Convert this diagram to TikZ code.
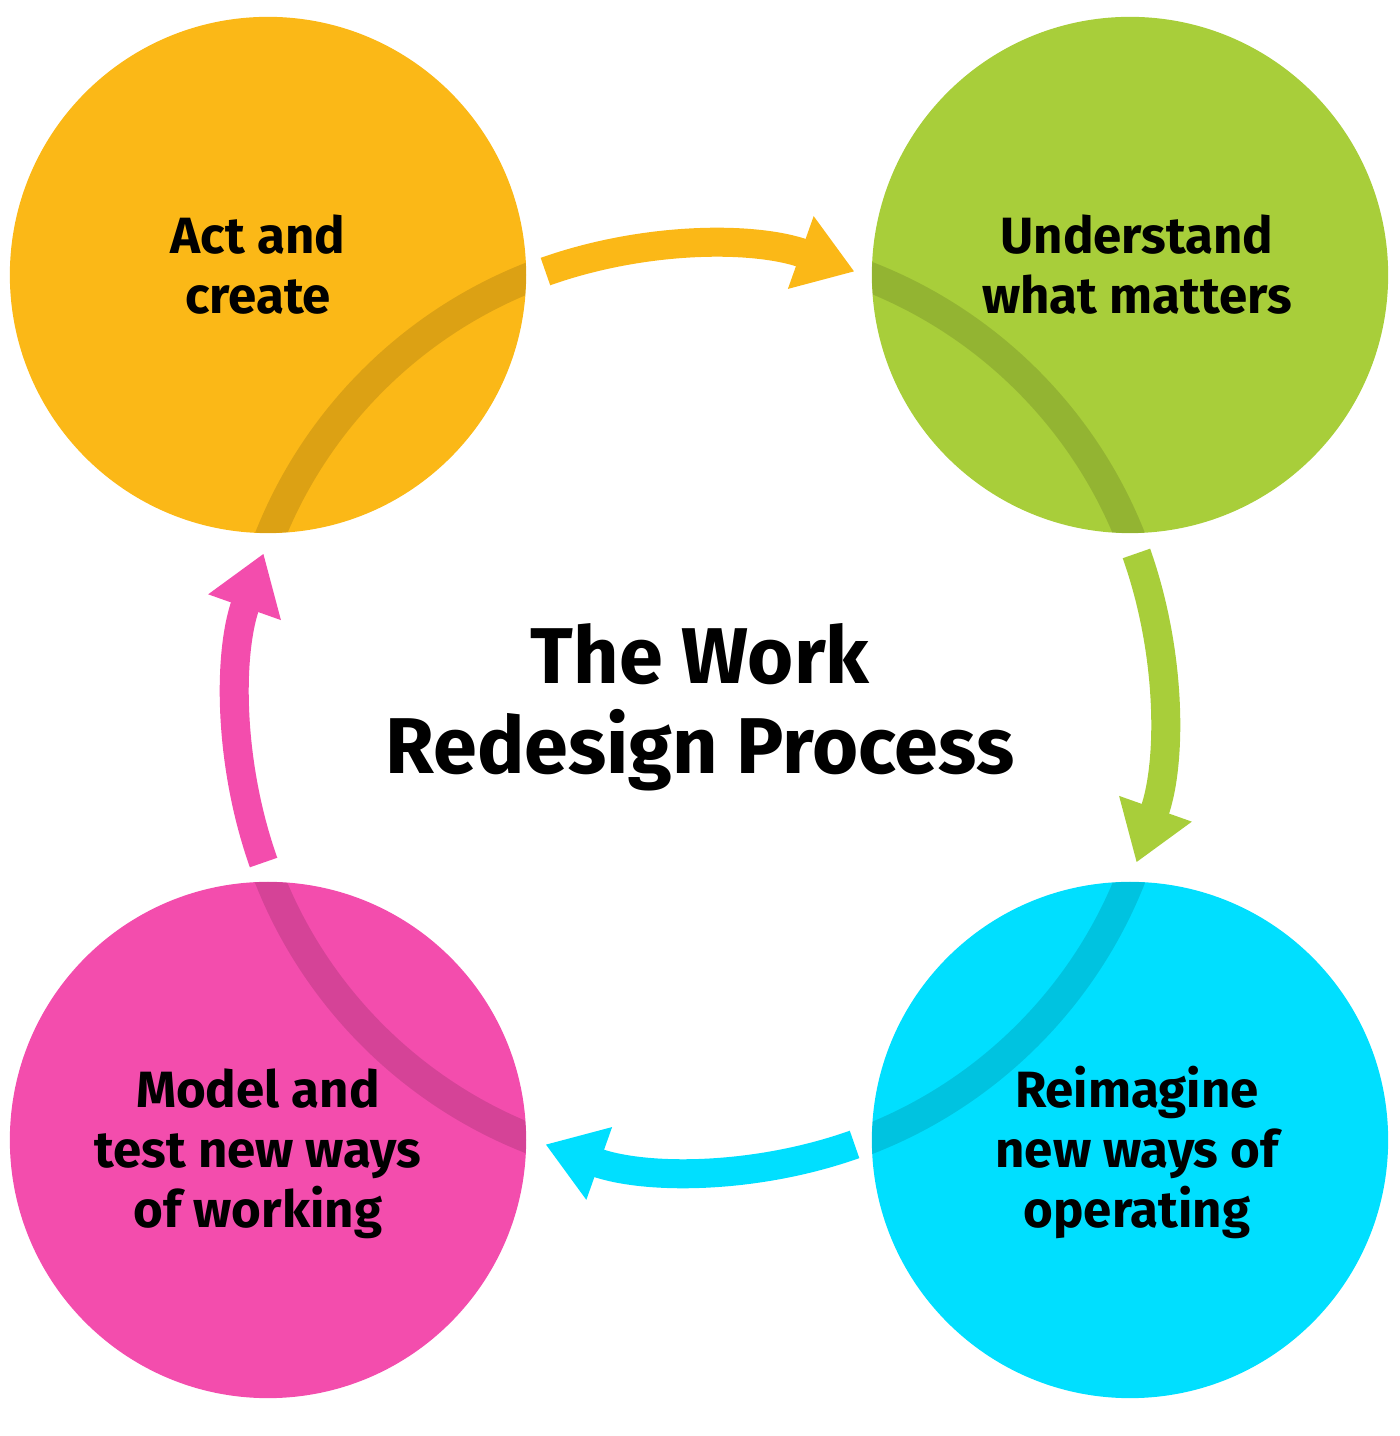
\documentclass[tikz,border=0pt]{standalone}
\usepackage{fontspec}
\setmainfont{Fira Sans}
\usetikzlibrary{arrows.meta}
\definecolor{actcol}{HTML}{FBB817}
\definecolor{undcol}{HTML}{A8CE3A}
\definecolor{reicol}{HTML}{00DFFF}
\definecolor{modcol}{HTML}{F34DAD}

\begin{document}
\begin{tikzpicture}[x=0.01cm,y=0.01cm,
   stage/.style={circle,minimum size=5.16cm,inner sep=0pt},
   lbl/.style={align=center,anchor=base,font=\fontsize{14.5}{17.1}\selectfont\bfseries},
   flow/.style={line width=2.9mm,-{Triangle[length=5.7mm,width=7.3mm]}},
   band/.style={line width=3mm,black,opacity=0.12}]
   \useasboundingbox (0,0) rectangle (1400,1436);
   \coordinate (hub) at (700,728);
   \node[stage,fill=actcol] (act) at (268,1161) {};
   \node[stage,fill=undcol] (und) at (1130,1161) {};
   \node[stage,fill=reicol] (rei) at (1130,296) {};
   \node[stage,fill=modcol] (mod) at (268,296) {};
   \foreach \s in {act,und,rei,mod}{
     \begin{scope}
       \clip (\s.center) circle (258);
       \draw[band] (hub) circle (463);
     \end{scope}}
   \draw[flow,actcol] (hub) ++(109.5:463) arc (109.5:70.5:463);
   \draw[flow,undcol] (hub) ++(19.5:463) arc (19.5:-19.5:463);
   \draw[flow,reicol] (hub) ++(-70.5:463) arc (-70.5:-109.5:463);
   \draw[flow,modcol] (hub) ++(-160.5:463) arc (-160.5:-199.5:463);
   \node[lbl] (actlbl) at (258,1122) {Act and\\create};
   \node[lbl] (undlbl) at (1137,1122) {Understand\\what matters};
   \node[lbl] (reilbl) at (1137,208) {Reimagine\\new ways of\\operating};
   \node[lbl] (modlbl) at (258,208) {Model and\\test new ways\\of working};
   \node[lbl,font=\fontsize{22.5}{25.6}\selectfont\bfseries] (title) at (700,662) {The Work\\Redesign Process};
\end{tikzpicture}
\end{document}
